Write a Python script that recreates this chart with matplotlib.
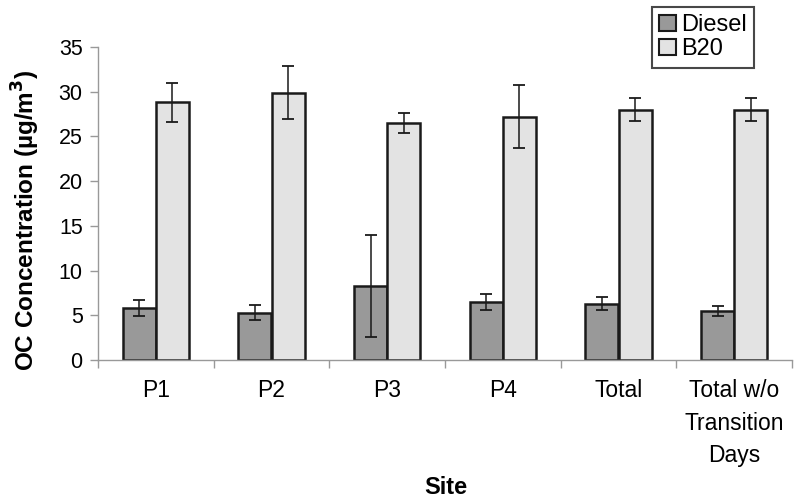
import matplotlib
matplotlib.use("Agg")
import matplotlib.pyplot as plt
import numpy as np

plt.rcParams['font.family'] = ['Liberation Sans', 'DejaVu Sans']

sites = ["P1", "P2", "P3", "P4", "Total", "Total w/o\nTransition\nDays"]
diesel = [5.8, 5.3, 8.3, 6.5, 6.3, 5.5]
diesel_err = [0.9, 0.8, 5.7, 0.9, 0.75, 0.55]
b20 = [28.8, 29.9, 26.5, 27.2, 28.0, 28.0]
b20_err = [2.2, 3.0, 1.15, 3.55, 1.3, 1.3]
yticks = [0, 5, 10, 15, 20, 25, 30, 35]

fig = plt.figure(figsize=(8, 5.03), dpi=100)
ax = fig.add_axes([0.1225, 0.2843, 0.8675, 0.6223])

x = np.arange(len(sites))
w = 0.286
ax.bar(x - w/2, diesel, w, color="#999999", edgecolor="#1a1a1a", linewidth=1.8,
       label="Diesel", zorder=2)
ax.bar(x + w/2, b20, w, color="#e3e3e3", edgecolor="#1a1a1a", linewidth=1.8,
       label="B20", zorder=2)
ax.errorbar(x - w/2, diesel, yerr=diesel_err, fmt="none", ecolor="#1a1a1a",
            elinewidth=1.1, capsize=4.3, capthick=1.3, zorder=3)
ax.errorbar(x + w/2, b20, yerr=b20_err, fmt="none", ecolor="#1a1a1a",
            elinewidth=1.1, capsize=4.3, capthick=1.3, zorder=3)

ax.set_xlim(-0.5, len(sites) - 0.5)
ax.set_ylim(0, 35)
ax.set_yticks(yticks)
ax.tick_params(axis="y", labelsize=15.5, length=6, color="#999999", width=1, pad=5)
ax.set_xticks(x)
ax.set_xticklabels(sites, fontsize=16.5, linespacing=1.52, va="top")
ax.tick_params(axis="x", length=0, pad=14)
ax.set_xticks(np.arange(len(sites) + 1) - 0.5, minor=True)
ax.tick_params(axis="x", which="minor", length=6, color="#999999", width=1)

for s in ["top", "right"]:
    ax.spines[s].set_visible(False)
for s in ["left", "bottom"]:
    ax.spines[s].set_color("#999999")
    ax.spines[s].set_linewidth(1)

fig.text(26/800, 1 - 220/503, "OC Concentration (µg/m$^\\mathbf{3}$)", fontsize=17.5,
         fontweight="bold", rotation=90, ha="center", va="center")
fig.text(446/800, 1 - 487/503, "Site", fontsize=17, fontweight="bold",
         ha="center", va="center")

leg = fig.legend(loc="upper left", bbox_to_anchor=(652/800, 1 - 7/503),
                 fontsize=17, frameon=True, fancybox=False, edgecolor="#1a1a1a",
                 handlelength=0.7, handleheight=0.7, handletextpad=0.25,
                 borderpad=0.3, labelspacing=0.1, borderaxespad=0)
leg.get_frame().set_linewidth(1.5)
for p in leg.get_patches():
    p.set_linewidth(1.5)

fig.savefig("out.png", dpi=100)
